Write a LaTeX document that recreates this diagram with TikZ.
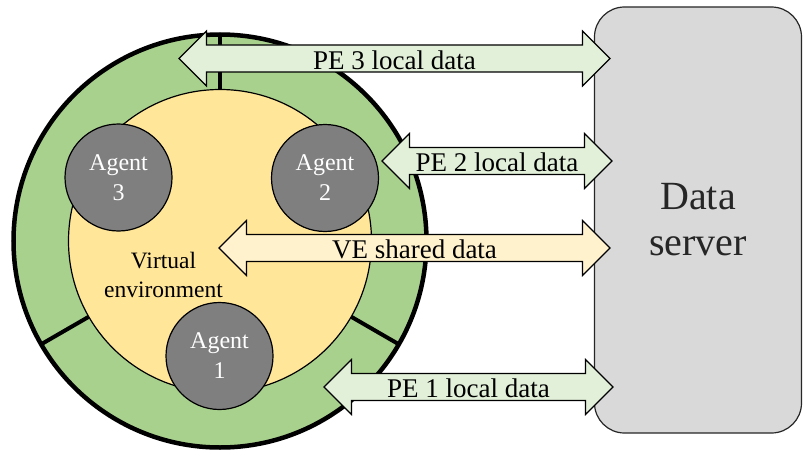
\documentclass[tikz,border=0pt]{standalone}
\usepackage{fontspec}
\setmainfont{Liberation Serif}
\definecolor{ringgreen}{HTML}{A9D18E}
\definecolor{veyellow}{HTML}{FFE699}
\definecolor{agentgray}{HTML}{7F7F7F}
\definecolor{pegreen}{HTML}{E2F0D9}
\definecolor{vecream}{HTML}{FFF2CC}
\definecolor{servergray}{HTML}{D9D9D9}
\newcommand\dblarr[4]{% x1, x2, yc, fill
  \filldraw[fill=#4, draw=black, line width=1.2pt, line join=miter]
    (#1,#3) -- ({#1+27.5},{#3-27.5}) -- ({#1+27.5},{#3-13.5})
    -- ({#2-27.5},{#3-13.5}) -- ({#2-27.5},{#3-27.5}) -- (#2,#3)
    -- ({#2-27.5},{#3+27.5}) -- ({#2-27.5},{#3+13.5})
    -- ({#1+27.5},{#3+13.5}) -- ({#1+27.5},{#3+27.5}) -- cycle;}
\tikzset{
  agent/.style={circle, fill=agentgray, draw=black, line width=1.2pt,
    minimum size=107pt, inner sep=0pt, align=center, text=white,
    font=\fontsize{24}{30}\selectfont},
  server/.style={rectangle, rounded corners=30pt, minimum width=207pt,
    minimum height=426pt, fill=servergray, draw=black!85, line width=1.2pt,
    align=center, font=\fontsize{40}{46}\selectfont, text=black!85},
  arrlabel/.style={font=\fontsize{27}{30}\selectfont, inner sep=0pt},
  divider/.style={line width=4pt},
}
\begin{document}
\begin{tikzpicture}[x=1pt,y=-1pt]
\useasboundingbox (0,0) rectangle (803,452);
\coordinate (c) at (220,241);
% ring
\fill[ringgreen] (c) circle[radius=206.5pt];
\draw[divider] (220,89.5) -- (220,34.5);
\draw[divider] (88.8,316.75) -- (41.2,344.25);
\draw[divider] (351.2,316.75) -- (398.8,344.25);
\draw[line width=4.5pt] (c) circle[radius=206.5pt];
% virtual environment
\draw[fill=veyellow, line width=1.2pt] (c) circle[radius=151.5pt];
\node[font=\fontsize{23.5}{29}\selectfont, align=center, inner sep=0pt] (vetext) at (163.5,275) {Virtual\\environment};
% agents
\node[agent] (a3) at (118.5,177.5) {Agent\\3};
\node[agent] (a2) at (325,178) {Agent\\2};
\node[agent] (a1) at (219.5,356) {Agent\\1};
% data server
\node[server] (ds) at (698,220) {Data\\server};
% arrows
\dblarr{179}{610}{58.5}{pegreen}
\node[arrlabel] (pe3) at (394.5,60) {PE 3 local data};
\dblarr{382}{612}{161}{pegreen}
\node[arrlabel] (pe2) at (497,162.5) {PE 2 local data};
\dblarr{219}{610}{248}{vecream}
\node[arrlabel] (ve) at (414.5,249.5) {VE shared data};
\dblarr{324}{613}{387}{pegreen}
\node[arrlabel] (pe1) at (468.5,388.5) {PE 1 local data};
\end{tikzpicture}
\end{document}
